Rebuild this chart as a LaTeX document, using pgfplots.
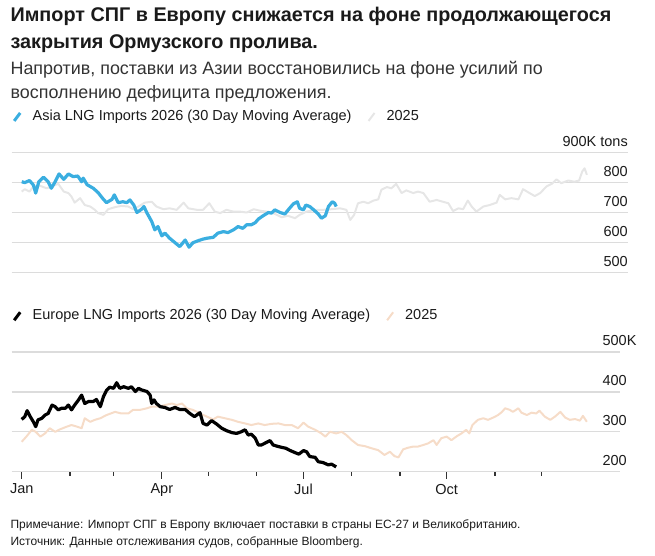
\documentclass[border=0pt]{standalone}
\usepackage{fontspec}
\setmainfont{Liberation Sans}
\usepackage{pgfplots}
\usepackage{pgfplotstable}
\pgfplotsset{compat=1.18}
\definecolor{blu}{HTML}{3AAEE0}
\definecolor{gry}{HTML}{E6E6E6}
\definecolor{pch}{HTML}{F6DCC8}
\definecolor{gridc}{HTML}{DCDCDC}
\definecolor{txt}{HTML}{1A1A1A}
\definecolor{tickc}{HTML}{333333}
\newcommand\tickfont{\fontsize{14.5}{16}\selectfont}

\pgfplotstableread{
day val
0 803
2 800
5 807
7.5 792
9 765
11 803
14 818
17 803
19 781
21.5 803
24 829
27 811
30 829
33 820
36 822
38.5 803
39.5 815
42 793
46 781
49 767
52.5 744
54.5 733
58 744
59.5 759
62 733
65 736
67.5 733
69.5 742
72 725
74 700
77 711
78.5 720
80.5 698
83.5 670
85.5 642
87.5 653
90 622
92 631
95 614
98.5 599
101.5 586
105 608
107.5 584
110 599
113.5 606
116.5 611
119 614
123 617
126 631
129.5 636
132.5 633
136 642
139 653
142 647
144.5 659
147.5 659
150 666
152 678
155 689
158.5 700
160.5 698
162.5 709
166 700
169 695
172 714
174.5 729
177 736
178.5 714
181 709
182.5 725
185 720
187.5 709
190.5 695
192.5 681
195 689
197 720
199.5 736
201 731
202 720
}\asiatwentysix

\pgfplotstableread{
day val
0 770
2 778
5 770
7.5 787
12 789
16 781
20 789
23.5 796
27 770
30 765
32 753
34 733
37.5 748
40.5 725
44 720
47 709
49 698
52.5 692
55.5 711
60 718
64 722
68.5 720
71.5 711
75 720
79 733
83.5 736
86.5 720
91 711
95 714
99.5 709
104 733
107 714
112.5 709
116.5 709
120.5 731
124 703
127.5 698
131.5 709
136 703
140 703
144.5 700
149 711
153 706
157.5 703
161.5 698
167 684
171 689
175.5 681
178.5 692
183 703
188.5 709
193.5 709
199 711
204.5 714
208.5 709
211 675
213.5 692
216 731
219.5 736
222.5 731
226 740
229 744
231 776
234.5 785
237.5 781
240.5 796
244 765
247 774
251.5 765
254.5 770
258 765
262 736
266.5 742
270.5 736
274 731
277 705
280.5 714
283.5 711
286.5 740
289 720
292 703
296.5 720
300.5 725
305 733
307 759
310.5 744
314.5 748
319 744
322 778
325.5 767
329.5 755
333 765
337 787
340.5 796
343.5 811
346.5 798
351 807
355 803
358 807
360 837
361.5 848
363 826
}\asiatwentyfive

\pgfplotstableread{
day val
0 331
2 338
3.5 353
5.5 338
7.5 325
9 313
10.5 330
13 334
15 342
17 346
19.5 367
21.5 363
23.5 355
25.5 359
28 359
30 367
32 355
34 367
36.5 380
38.5 392
40.5 371
43 376
46 376
48 381
50.5 363
52.5 388
54.5 404
56.5 412
59 409
61 423
63 409
65.5 413
68.5 409
70.5 413
73 401
75 409
77 405
80.5 401
82.5 392
83.5 371
85 380
86.5 371
89 363
92 361
95 356
98.5 361
101.5 356
105 356
108 346
111 338
114.5 348
116.5 321
119 317
122 328
125 320
128.5 309
131.5 303
135 298
138 296
141 300
143.5 305
145.5 292
147.5 294
150 284
152 267
154 267
156 271
159.5 278
161.5 267
164 264
167 261
169.5 259
172.5 253
175.5 248
178 244
181 253
183 250
185 238
188.5 236
190.5 225
193.5 223
197 217
199 219
202 212
}\eurotwentysix

\pgfplotstableread{
day val
0 275
3 288
6.5 305
9 300
12 288
15 296
18 309
21.5 300
24.5 306
29 313
32 317
35.5 313
38.5 309
40.5 334
44 325
47 330
50.5 334
54.5 342
60 350
64 346
68.5 346
71.5 355
76 355
80.5 359
83.5 363
87.5 363
92 367
96.5 371
99.5 367
103 371
106 359
110 355
114.5 346
119 338
123 331
126 338
130.5 334
135 330
139 325
143.5 321
147.5 317
152 321
156 317
160.5 320
165 321
169 317
173.5 317
177.5 309
181 323
184 313
188.5 305
192.5 296
195 288
198 300
202 296
205.5 300
208.5 292
212 279
216 267
220.5 264
224.5 259
229 254
233 242
236.5 250
239.5 239
242 236
245 256
248 260
251.5 263
254.5 263
258 267
261 271
264.5 279
266.5 267
269.5 284
273 288
276 279
279.5 289
282.5 296
285.5 305
287.5 296
289.5 317
293 330
296.5 334
299.5 330
303 336
306 342
308.5 350
310.5 359
313.5 355
315.5 350
319 359
321 348
324.5 342
327.5 348
330.5 346
332.5 353
336 338
339.5 330
342.5 338
346 350
349 336
352 330
355.5 332
358.5 328
360.5 340
363 325
}\eurotwentyfive

\begin{document}
\begin{tikzpicture}
\useasboundingbox (0pt,0pt) rectangle (655pt,-555pt);
% titles
\node[anchor=base west, inner sep=0pt, text=txt] at (10.4pt,-21pt) {\fontsize{19.8}{27}\selectfont\bfseries Импорт СПГ в Европу снижается на фоне продолжающегося};
\node[anchor=base west, inner sep=0pt, text=txt] at (10.4pt,-48pt) {\fontsize{19.8}{27}\selectfont\bfseries закрытия Ормузского пролива.};
\node[anchor=base west, inner sep=0pt, text=tickc] at (10.4pt,-74.5pt) {\fontsize{17.9}{23}\selectfont Напротив, поставки из Азии восстановились на фоне усилий по};
\node[anchor=base west, inner sep=0pt, text=tickc] at (10.4pt,-98pt) {\fontsize{17.9}{23}\selectfont восполнению дефицита предложения.};
% footnote
\node[anchor=base west, inner sep=0pt, text=txt] at (10.4pt,-528pt) {\fontsize{12}{14}\selectfont Примечание: Импорт СПГ в Европу включает поставки в страны ЕС-27 и Великобританию.};
\node[anchor=base west, inner sep=0pt, text=txt] at (10.4pt,-545pt) {\fontsize{12}{14}\selectfont Источник: Данные отслеживания судов, собранные Bloomberg.};

\pgfplotsset{
  lngbase/.style={
    scale only axis, anchor=south west,
    axis line style={draw=none},
    ytick style={draw=none},
    yticklabel pos=right,
    yticklabel style={anchor=south east, inner sep=0pt, yshift=5.8pt, font=\tickfont, text=txt},
    ymajorgrids, grid style={draw=gridc, line width=1.3pt},
    clip=false,
    legend columns=2,
    legend cell align=left,
    legend image code/.code={\draw[##1, line cap=butt] (0pt,-5pt) -- (6pt,3pt);},
    legend style={at={(0,1)}, anchor=west, xshift=1pt, yshift=36.5pt,
      draw=none, fill=none, inner sep=0pt, outer sep=0pt,
      font=\tickfont, text=txt,
      nodes={inner sep=0pt},
      /tikz/every odd column/.append style={column sep=11pt},
      /tikz/every even column/.append style={column sep=16pt}},
  }
}

\begin{axis}[lngbase,
  at={(11.7pt,-272.3pt)}, width=616.3pt, height=119.6pt,
  xmin=-6.42, xmax=389.4, ymin=500, ymax=900,
  xtick=\empty,
  ytick={500,600,700,800,900},
  yticklabels={500,600,700,800,900K tons},
]
\addlegendimage{blu, line width=3pt}
\addlegendentry{Asia LNG Imports 2026 (30 Day Moving Average)}
\addlegendimage{gry, line width=2pt}
\addlegendentry{2025}
\addplot[gry, line width=2pt, line join=round, forget plot] table[x=day,y=val] {\asiatwentyfive};
\addplot[blu, line width=3.2pt, line join=round, forget plot] table[x=day,y=val] {\asiatwentysix};
\end{axis}

\begin{axis}[lngbase,
  at={(11.7pt,-471.7pt)}, width=608.3pt, height=119.7pt,
  xmin=-6.42, xmax=384.3, ymin=200, ymax=500,
  xtick={0,90,181,273}, xticklabels={Jan,Apr,Jul,Oct},
  minor xtick={31,59,120,151,212,243,304,334},
  xtick pos=bottom, tick align=outside,
  major tick length=7pt, minor tick length=4pt,
  xtick style={draw=tickc, line width=1.1pt},
  xticklabel style={anchor=north, inner sep=0pt, yshift=-5pt, font=\tickfont, text=txt},
  ytick={200,300,400,500},
  yticklabels={200,300,400,500\rlap{K}},
]
\addlegendimage{black, line width=3pt}
\addlegendentry{Europe LNG Imports 2026 (30 Day Moving Average)}
\addlegendimage{pch, line width=2pt}
\addlegendentry{2025}
\addplot[pch, line width=2pt, line join=round, forget plot] table[x=day,y=val] {\eurotwentyfive};
\addplot[black, line width=3.2pt, line join=round, forget plot] table[x=day,y=val] {\eurotwentysix};
\end{axis}
\end{tikzpicture}
\end{document}
